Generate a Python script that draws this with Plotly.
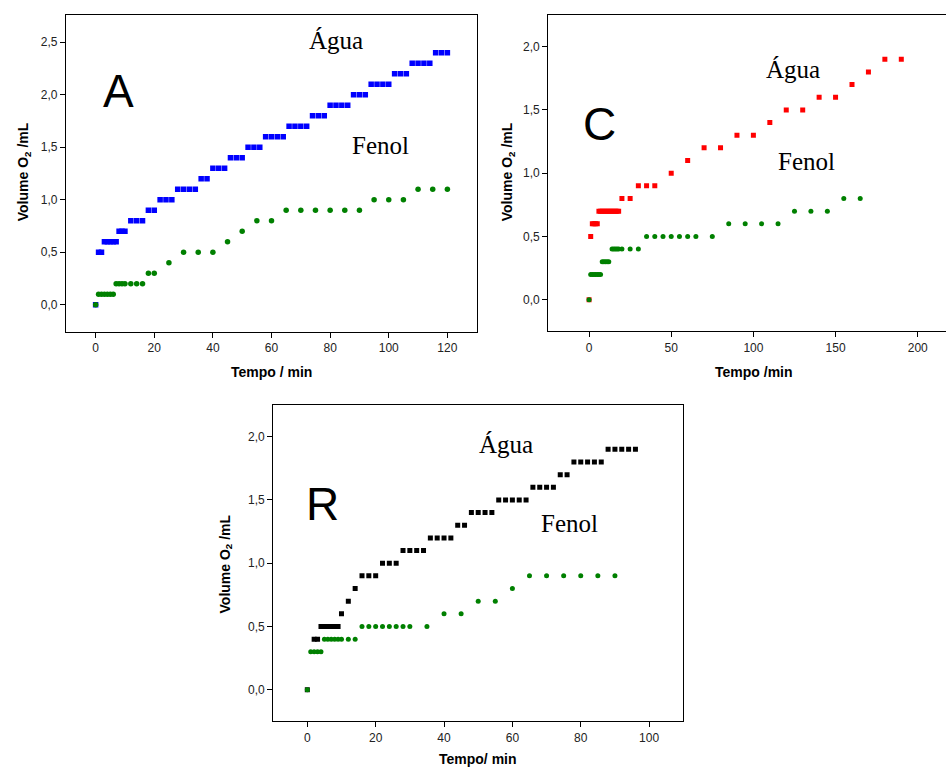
import plotly.graph_objects as go

# ---------------- Data ----------------
# Panel A
A_agua_x = [0, 1, 2, 3, 4, 5, 6, 7, 8, 9, 10, 12, 14, 16, 18, 20, 22, 24, 26, 28, 30, 32, 34,
            36, 38, 40, 42, 44, 46, 48, 50, 52, 54, 56, 58, 60, 62, 64, 66, 68, 70, 72,
            74, 76, 78, 80, 82, 84, 86, 88, 90, 92, 94, 96, 98, 100, 102, 104, 106,
            108, 110, 112, 114, 116, 118, 120]
A_agua_y = [0.0, 0.5, 0.5, 0.6, 0.6, 0.6, 0.6, 0.6, 0.7, 0.7, 0.7, 0.8, 0.8, 0.8, 0.9, 0.9,
            1.0, 1.0, 1.0, 1.1, 1.1, 1.1, 1.1, 1.2, 1.2, 1.3, 1.3, 1.3, 1.4, 1.4, 1.4,
            1.5, 1.5, 1.5, 1.6, 1.6, 1.6, 1.6, 1.7, 1.7, 1.7, 1.7, 1.8, 1.8, 1.8,
            1.9, 1.9, 1.9, 1.9, 2.0, 2.0, 2.0, 2.1, 2.1, 2.1, 2.1, 2.2, 2.2, 2.2,
            2.3, 2.3, 2.3, 2.3, 2.4, 2.4, 2.4]
A_fenol_x = [0, 1, 2, 3, 4, 5, 6, 7, 8, 9, 10, 12, 14, 16, 18, 20, 25, 30, 35, 40, 45, 50,
             55, 60, 65, 70, 75, 80, 85, 90, 95, 100, 105, 110, 115, 120]
A_fenol_y = [0.0, 0.1, 0.1, 0.1, 0.1, 0.1, 0.1, 0.2, 0.2, 0.2, 0.2, 0.2, 0.2, 0.2, 0.3, 0.3,
             0.4, 0.5, 0.5, 0.5, 0.6, 0.7, 0.8, 0.8, 0.9, 0.9, 0.9, 0.9, 0.9, 0.9,
             1.0, 1.0, 1.0, 1.1, 1.1, 1.1]

# Panel C
C_agua_x = [0, 1, 2, 3, 4, 5, 6, 7, 8, 9, 10, 11, 12, 13, 14, 15, 16, 17, 18, 20, 25,
            30, 35, 40, 50, 60, 70, 80, 90, 100, 110, 120, 130, 140, 150, 160, 170, 180, 190]
C_agua_y = [0.0, 0.5, 0.6, 0.6, 0.6, 0.6, 0.7, 0.7, 0.7, 0.7, 0.7, 0.7, 0.7, 0.7, 0.7, 0.7,
            0.7, 0.7, 0.7, 0.8, 0.8, 0.9, 0.9, 0.9, 1.0, 1.1, 1.2, 1.2, 1.3, 1.3, 1.4,
            1.5, 1.5, 1.6, 1.6, 1.7, 1.8, 1.9, 1.9]
C_fenol_x = [0, 1, 2, 3, 4, 5, 6, 7, 8, 9, 10, 11, 12, 14, 15, 16, 17, 18, 20, 25, 30,
             35, 40, 45, 50, 55, 60, 65, 75, 85, 95, 105, 115, 125, 135, 145, 155, 165]
C_fenol_y = [0.0, 0.2, 0.2, 0.2, 0.2, 0.2, 0.2, 0.2, 0.3, 0.3, 0.3, 0.3, 0.3, 0.4, 0.4, 0.4,
             0.4, 0.4, 0.4, 0.4, 0.4, 0.5, 0.5, 0.5, 0.5, 0.5, 0.5, 0.5, 0.5, 0.6, 0.6,
             0.6, 0.6, 0.7, 0.7, 0.7, 0.8, 0.8]

# Panel R
R_agua_x = [0, 2, 3, 4, 5, 6, 7, 8, 9, 10, 12, 14, 16, 18, 20, 22, 24, 26, 28, 30, 32, 34,
            36, 38, 40, 42, 44, 46, 48, 50, 52, 54, 56, 58, 60, 62, 64, 66, 68, 70, 72,
            74, 76, 78, 80, 82, 84, 86, 88, 90, 92, 94, 96]
R_agua_y = [0.0, 0.4, 0.4, 0.5, 0.5, 0.5, 0.5, 0.5, 0.5, 0.6, 0.7, 0.8, 0.9, 0.9, 0.9,
            1.0, 1.0, 1.0, 1.1, 1.1, 1.1, 1.1, 1.2, 1.2, 1.2, 1.2, 1.3, 1.3,
            1.4, 1.4, 1.4, 1.4, 1.5, 1.5, 1.5, 1.5, 1.5, 1.6, 1.6, 1.6, 1.6,
            1.7, 1.7, 1.8, 1.8, 1.8, 1.8, 1.8, 1.9, 1.9, 1.9, 1.9, 1.9]
R_fenol_x = [0, 1, 2, 3, 4, 5, 6, 7, 8, 9, 10, 12, 14, 16, 18, 20, 22, 24, 26, 28, 30, 35,
             40, 45, 50, 55, 60, 65, 70, 75, 80, 85, 90]
R_fenol_y = [0.0, 0.3, 0.3, 0.3, 0.3, 0.4, 0.4, 0.4, 0.4, 0.4, 0.4, 0.4, 0.4,
             0.5, 0.5, 0.5, 0.5, 0.5, 0.5, 0.5, 0.5, 0.5, 0.6, 0.6, 0.7, 0.7, 0.8,
             0.9, 0.9, 0.9, 0.9, 0.9, 0.9]

A_xticks = [0, 20, 40, 60, 80, 100, 120]
A_yticks = [0.0, 0.5, 1.0, 1.5, 2.0, 2.5]
C_xticks = [0, 50, 100, 150, 200]
C_yticks = [0.0, 0.5, 1.0, 1.5, 2.0]
R_xticks = [0, 20, 40, 60, 80, 100]
R_yticks = [0.0, 0.5, 1.0, 1.5, 2.0]

GREEN = "#008000"
SANS = "Liberation Sans, Arial, sans-serif"
SERIF = "Liberation Serif, Times New Roman, serif"

fig = go.Figure()

def add(x, y, color, symbol, size, xa, ya):
    fig.add_trace(go.Scatter(x=x, y=y, mode="markers", xaxis=xa, yaxis=ya,
                             marker=dict(color=color, symbol=symbol, size=size,
                                         line=dict(width=0)),
                             showlegend=False, hoverinfo="x+y"))

add(A_agua_x, A_agua_y, "#0000FF", "square", 5.5, "x", "y")
add(A_fenol_x, A_fenol_y, GREEN, "circle", 5.5, "x", "y")
add(C_agua_x, C_agua_y, "#FF0000", "square", 5, "x2", "y2")
add(C_fenol_x, C_fenol_y, GREEN, "circle", 5, "x2", "y2")
add(R_agua_x, R_agua_y, "#000000", "square", 5, "x3", "y3")
add(R_fenol_x, R_fenol_y, GREEN, "circle", 5, "x3", "y3")

def xax(domain, rng, ticks, anchor):
    return dict(domain=domain, range=rng, tickvals=ticks, anchor=anchor,
                showgrid=False, zeroline=False, showline=True, linecolor="black",
                linewidth=1.3, mirror=True, ticks="outside", ticklen=5, tickwidth=1.2,
                tickcolor="black", tickfont=dict(family=SANS, size=12, color="#222"))

def yax(domain, rng, ticks, anchor):
    d = xax(domain, rng, ticks, anchor)
    d["tickformat"] = ".1f"
    return d

fig.update_layout(
    width=946, height=769,
    margin=dict(l=0, r=0, t=0, b=0),
    paper_bgcolor="white", plot_bgcolor="white",
    separators=",.",
    xaxis=xax([0.0698, 0.5039], [-10.1, 130], A_xticks, "y"),
    yaxis=yax([0.5687, 0.9805], [-0.257, 2.76], A_yticks, "x"),
    xaxis2=xax([0.5796, 1.0], [-24.8, 217.2], C_xticks, "y2"),
    yaxis2=yax([0.5696, 0.9805], [-0.247, 2.25], C_yticks, "x2"),
    xaxis3=xax([0.2889, 0.7223], [-9.95, 110], R_xticks, "y3"),
    yaxis3=yax([0.0624, 0.4733], [-0.247, 2.25], R_yticks, "x3"),
)

ann = []
def txt(x, y, s, xref, yref, size, family, **kw):
    ann.append(dict(x=x, y=y, text=s, xref=xref, yref=yref, showarrow=False,
                    font=dict(family=family, size=size, color="black"),
                    xanchor="center", yanchor="middle", **kw))

# in-plot labels
txt(82, 2.52, "Água", "x", "y", 25, SERIF)
txt(97.3, 1.52, "Fenol", "x", "y", 25, SERIF)
txt(7.7, 2.04, "A", "x", "y", 46, SANS)
txt(124.3, 1.82, "Água", "x2", "y2", 25, SERIF)
txt(132.4, 1.09, "Fenol", "x2", "y2", 25, SERIF)
txt(6.3, 1.39, "C", "x2", "y2", 46, SANS)
txt(58.2, 1.94, "Água", "x3", "y3", 25, SERIF)
txt(76.7, 1.31, "Fenol", "x3", "y3", 25, SERIF)
txt(4.4, 1.47, "R", "x3", "y3", 46, SANS)

# axis titles
ytitle = "<b>Volume O<sub>2</sub> /mL</b>"
txt(24 / 946, 0.776, ytitle, "paper", "paper", 14, SANS, textangle=-90)
txt(508 / 946, 0.776, ytitle, "paper", "paper", 14, SANS, textangle=-90)
txt(226 / 946, 0.266, ytitle, "paper", "paper", 14, SANS, textangle=-90)
txt(271.5 / 946, 1 - 372 / 769, "<b>Tempo / min</b>", "paper", "paper", 14, SANS)
txt(754 / 946, 1 - 372 / 769, "<b>Tempo /min</b>", "paper", "paper", 14, SANS)
txt(478 / 946, 1 - 759 / 769, "<b>Tempo/ min</b>", "paper", "paper", 14, SANS)

fig.update_layout(annotations=ann)
fig.write_html("out.html")
